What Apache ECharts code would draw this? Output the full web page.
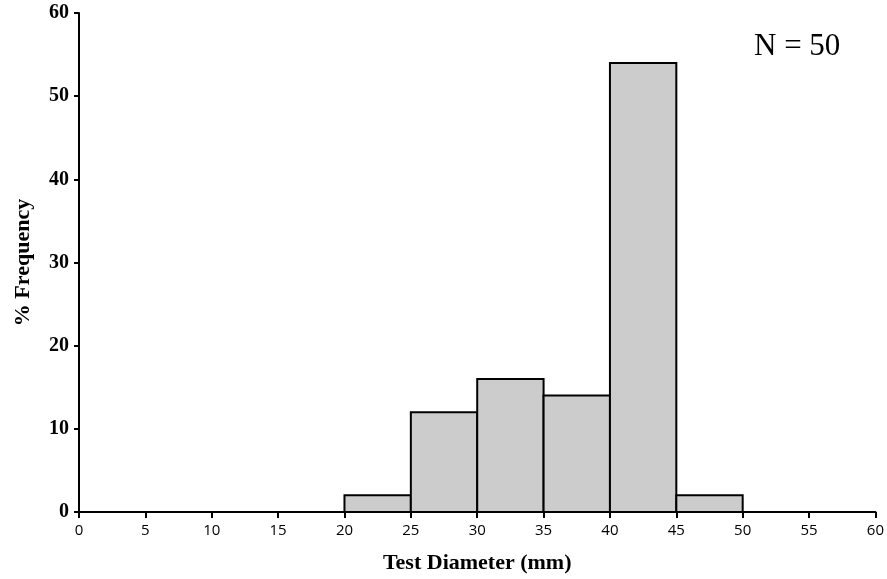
<!DOCTYPE html>
<html>
<head>
<meta charset="utf-8">
<script src="https://cdn.jsdelivr.net/npm/echarts@6/dist/echarts.min.js"></script>
<style>
  html, body { margin: 0; padding: 0; background: #fff; }
  #chart { width: 887px; height: 579px; }
</style>
</head>
<body>
<div id="chart"></div>
<script>
// bin edges (mm) and % frequency per bin
const binStart = [20, 25, 30, 35, 40, 45]
const binEnd = [25, 30, 35, 40, 45, 50]
const freq = [2, 12, 16, 14, 54, 2]

const seriesData = binStart.map((s, i) => [s, binEnd[i], freq[i]])

const chart = echarts.init(document.getElementById('chart'))

const option = {
  animation: false,
  grid: {
    left: 79,
    right: 11,
    top: 13,
    bottom: 65
  },
  title: {
    text: 'N = 50',
    left: 749,
    top: 26,
    textStyle: {
      fontFamily: 'Liberation Serif',
      fontWeight: 'normal',
      fontSize: 31,
      color: '#000'
    }
  },
  xAxis: {
    type: 'value',
    min: 0,
    max: 60,
    interval: 5,
    name: 'Test Diameter (mm)',
    nameLocation: 'middle',
    nameGap: 40,
    nameTextStyle: {
      fontFamily: 'Liberation Serif',
      fontWeight: 'bold',
      fontSize: 22,
      color: '#000'
    },
    axisLine: { lineStyle: { color: '#000', width: 2 } },
    axisTick: { show: true, inside: false, length: 6, lineStyle: { color: '#000', width: 2 } },
    axisLabel: {
      fontFamily: 'Open Sans',
      fontSize: 15,
      color: '#000',
      margin: 11
    },
    splitLine: { show: false }
  },
  yAxis: {
    type: 'value',
    min: 0,
    max: 60,
    interval: 10,
    name: '% Frequency',
    nameLocation: 'middle',
    nameGap: 45,
    nameTextStyle: {
      fontFamily: 'Liberation Serif',
      fontWeight: 'bold',
      fontSize: 22,
      color: '#000'
    },
    axisLine: { show: true, lineStyle: { color: '#000', width: 2 } },
    axisTick: { show: true, inside: false, length: 5, lineStyle: { color: '#000', width: 2 } },
    axisLabel: {
      fontFamily: 'Liberation Serif',
      fontWeight: 'bold',
      fontSize: 20,
      color: '#000',
      margin: 10
    },
    splitLine: { show: false }
  },
  series: [
    {
      type: 'custom',
      data: seriesData,
      encode: { x: [0, 1], y: 2 },
      renderItem: (params, api) => {
        const p0 = api.coord([api.value(0), 0])
        const p1 = api.coord([api.value(1), api.value(2)])
        return {
          type: 'rect',
          shape: { x: p0[0], y: p1[1], width: p1[0] - p0[0], height: p0[1] - p1[1] },
          style: { fill: '#cccccc', stroke: '#000', lineWidth: 2 }
        }
      }
    }
  ]
}

chart.setOption(option)
</script>
</body>
</html>
